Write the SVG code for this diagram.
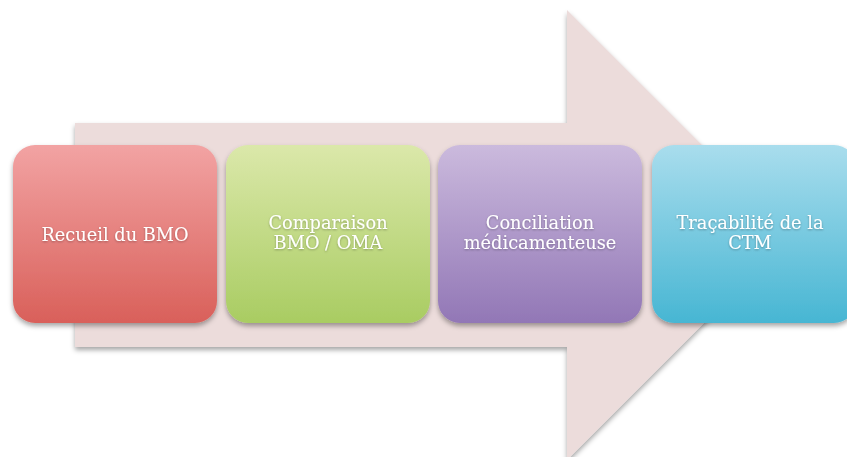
<svg xmlns="http://www.w3.org/2000/svg" width="847" height="457" viewBox="0 0 847 457">
<defs>
<linearGradient id="gr" x1="0" y1="0" x2="0" y2="1"><stop offset="0" stop-color="#f2a3a3"/><stop offset="1" stop-color="#d9605a"/></linearGradient>
<linearGradient id="gg" x1="0" y1="0" x2="0" y2="1"><stop offset="0" stop-color="#dbe8aa"/><stop offset="1" stop-color="#a9cc62"/></linearGradient>
<linearGradient id="gp" x1="0" y1="0" x2="0" y2="1"><stop offset="0" stop-color="#cbbadd"/><stop offset="1" stop-color="#9277b6"/></linearGradient>
<linearGradient id="gb" x1="0" y1="0" x2="0" y2="1"><stop offset="0" stop-color="#a9dded"/><stop offset="1" stop-color="#47b6d3"/></linearGradient>
<filter id="sh" x="-10%" y="-10%" width="120%" height="125%"><feDropShadow dx="0" dy="3" stdDeviation="2.5" flood-color="#000" flood-opacity="0.35"/></filter>
<filter id="tsh" x="-10%" y="-20%" width="120%" height="140%"><feDropShadow dx="0" dy="1" stdDeviation="0.8" flood-color="#000" flood-opacity="0.3"/></filter>
</defs>
<style>
.box{filter:url(#sh)}
.lbl{font-family:"DejaVu Serif","Liberation Serif",serif;font-size:17.8px;fill:#fff;text-anchor:middle;filter:url(#tsh)}
</style>
<rect width="847" height="457" fill="#fff"/>
<g id="connectors">
<path d="M75,123 H567 V10 L792,235 L567,460 V347 H75 Z" fill="#ecdcdb" filter="url(#sh)"/>
</g>
<g id="n1">
<rect class="box" x="13" y="145" width="204" height="178" rx="22" fill="url(#gr)"/>
<text class="lbl" x="115" y="241">Recueil du BMO</text>
</g>
<g id="n2">
<rect class="box" x="226" y="145" width="204" height="178" rx="22" fill="url(#gg)"/>
<text class="lbl" x="328" y="229">Comparaison</text>
<text class="lbl" x="328" y="249">BMO / OMA</text>
</g>
<g id="n3">
<rect class="box" x="438" y="145" width="204" height="178" rx="22" fill="url(#gp)"/>
<text class="lbl" x="540" y="229">Conciliation</text>
<text class="lbl" x="540" y="249">médicamenteuse</text>
</g>
<g id="n4">
<rect class="box" x="652" y="145" width="204" height="178" rx="22" fill="url(#gb)"/>
<text class="lbl" x="750" y="229">Traçabilité de la</text>
<text class="lbl" x="750" y="249">CTM</text>
</g>
</svg>
